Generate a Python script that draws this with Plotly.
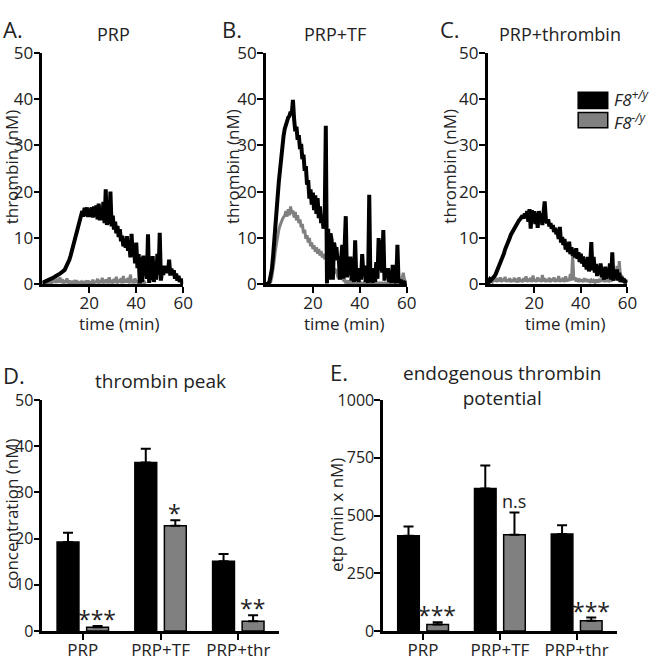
import plotly.graph_objects as go

W, H = 666, 669
FONT = "Open Sans"
GRAY = "#808080"

# ---------------- data ----------------
TIME = [i * 0.5 for i in range(121)]  # minutes 0 .. 60

A_WT = [0.3, 0.4, 0.5, 0.6, 0.7, 0.8, 1.0, 1.1, 1.3, 1.4,
        1.5, 1.7, 1.8, 2.0, 2.1, 2.3, 2.5, 2.6, 2.9, 3.1,
        3.6, 4.0, 4.6, 5.3, 6.1, 7.0, 8.0, 9.1, 10.1, 11.2,
        12.3, 13.2, 14.1, 15.0, 15.8, 14.6, 16.5, 14.8, 16.6, 14.5,
        16.3, 14.6, 16.6, 14.4, 16.8, 14.6, 17.0, 14.0, 17.4, 13.8,
        16.3, 13.8, 17.8, 13.2, 20.5, 12.8, 15.2, 13.0, 20.0, 12.5,
        14.8, 11.8, 13.5, 11.0, 12.6, 10.2, 11.9, 9.3, 10.5, 8.2,
        9.6, 7.9, 10.4, 7.2, 9.0, 5.8, 10.9, 6.0, 8.2, 4.5,
        9.0, 3.5, 6.5, 0.2, 5.8, 0.5, 6.2, 2.0, 4.0, 1.2,
        10.8, 0.3, 3.2, 1.0, 6.1, 0.5, 2.8, 1.0, 6.6, 2.1,
        11.1, 0.8, 3.0, 2.0, 4.0, 2.5, 3.6, 2.4, 5.3, 1.9,
        3.4, 2.0, 3.0, 1.2, 2.3, 0.8, 1.8, 0.5, 1.2, 0.3,
        0.5]
A_KO = [0.1, 0.1, 0.1, 0.2, 0.2, 0.3, 0.3, 0.5, 0.3, 0.8,
        0.4, 1.0, 0.3, 1.2, 0.4, 1.5, 0.3, 1.1, 0.2, 0.9,
        0.3, 1.3, 0.2, 0.8, 0.2, 0.7, 0.3, 0.6, 0.2, 0.9,
        0.1, 0.6, 0.2, 0.5, 0.1, 0.7, 0.2, 0.5, 0.1, 0.8,
        0.2, 0.6, 0.1, 1.0, 0.2, 0.7, 0.3, 1.2, 0.2, 0.9,
        0.3, 1.4, 0.2, 1.0, 0.3, 1.1, 0.2, 1.5, 0.3, 0.9,
        0.2, 1.2, 0.3, 1.6, 0.2, 1.0, 0.4, 1.3, 0.2, 1.8,
        0.3, 1.1, 0.4, 1.4, 0.2, 2.1, 0.3, 1.0, 0.2, 1.3,
        0.3, 0.8, 0.2, 0.9, 0.3, 0.7, 0.2, 0.5, 0.1, None,
        None, None, None, None, None, None, None, None, None, None,
        None, None, None, None, None, None, None, None, None, None,
        None, None, None, None, None, None, None, None, None, None,
        None]

B_WT = [0.0, 0.0, 0.2, 0.6, 1.6, 3.2, 5.8, 8.6, 12.0, 15.6,
        19.0, 22.2, 25.0, 27.8, 30.0, 32.0, 33.5, 34.5, 35.0, 36.0,
        36.3, 37.2, 36.7, 39.8, 35.6, 33.0, 34.0, 31.2, 32.2, 29.2,
        30.3, 27.0, 28.0, 24.5, 25.5, 21.5, 22.5, 18.5, 20.5, 17.2,
        19.8, 16.0, 19.2, 15.2, 18.6, 14.3, 16.8, 13.2, 15.0, 12.0,
        13.5, 34.2, 0.2, 12.0, 1.0, 11.0, 9.5, 1.0, 9.0, 7.5,
        8.0, 5.2, 6.0, 1.0, 5.0, 8.5, 1.2, 7.8, 14.7, 1.5,
        4.0, 2.0, 6.0, 0.8, 3.0, 0.5, 9.5, 0.8, 2.2, 0.5,
        3.5, 1.0, 6.5, 2.0, 4.0, 0.5, 2.5, 0.3, 19.3, 0.5,
        2.0, 0.3, 3.5, 0.5, 4.8, 1.2, 10.0, 3.0, 9.5, 2.5,
        11.7, 0.8, 3.0, 1.5, 3.5, 0.5, 1.5, 0.3, 4.2, 0.5,
        0.8, 0.3, 8.5, 0.3, 1.0, 0.3, 0.5, 0.2, 0.4, 0.2,
        0.3]
B_KO = [0.0, 0.0, 0.0, 0.2, 0.5, 1.5, 3.0, 5.0, 7.2, 9.0,
        10.6, 11.8, 12.7, 13.5, 14.0, 14.5, 14.8, 15.8, 14.6, 16.2,
        14.9, 16.8, 15.3, 15.9, 14.4, 15.6, 13.8, 14.9, 13.2, 14.0,
        12.3, 13.0, 11.0, 11.8, 9.8, 10.6, 9.0, 10.0, 8.2, 9.0,
        7.6, 8.4, 7.0, 8.0, 6.6, 7.6, 6.2, 7.2, 5.8, 6.6,
        5.4, 6.3, 4.4, 3.5, 3.0, 4.2, 4.0, 2.8, 2.3, 3.2,
        3.0, 1.8, 1.2, 2.0, 1.6, 1.0, 0.9, 1.2, 0.2, 0.8,
        0.3, 0.6, 0.2, 0.5, 0.1, 0.4, 0.1, 0.3, 0.1, 0.3,
        0.1, 0.3, 0.1, 0.3, 0.1, 0.3, 0.1, 0.3, 0.1, 0.3,
        0.1, 0.3, 0.1, 0.3, 0.1, 0.3, 0.1, 0.3, 0.1, 0.3,
        0.1, 0.3, 0.1, 0.3, 0.1, 0.3, 0.1, 0.3, 0.1, 0.3,
        0.1, 0.3, 0.1, 0.3, 0.1, 0.3, 1.5, 2.5, 1.0, 0.4,
        0.2]

C_WT = [0.8, 0.6, 1.1, 0.9, 1.2, 1.4, 1.8, 2.2, 2.8, 3.3,
        3.8, 4.5, 5.2, 5.9, 6.6, 7.5, 8.3, 8.8, 9.3, 10.0,
        10.7, 11.2, 11.7, 12.2, 12.7, 13.0, 13.4, 13.8, 14.1, 14.4,
        14.8, 14.2, 15.3, 14.5, 15.8, 13.5, 16.2, 12.0, 16.0, 14.0,
        15.8, 13.0, 15.4, 12.2, 15.8, 13.8, 15.3, 12.8, 16.0, 17.9,
        14.1, 13.2, 14.0, 12.5, 13.2, 12.0, 12.8, 11.3, 12.2, 10.8,
        11.4, 9.8, 12.4, 9.0, 10.2, 8.5, 9.8, 7.5, 8.6, 7.0,
        9.2, 6.5, 8.0, 6.2, 7.4, 5.8, 7.8, 5.5, 6.9, 4.8,
        6.6, 4.5, 6.0, 3.8, 5.2, 3.2, 5.9, 2.8, 4.2, 9.1,
        3.0, 5.9, 2.5, 4.4, 1.8, 4.0, 2.2, 4.5, 1.5, 3.0,
        1.0, 3.8, 1.2, 3.0, 1.5, 4.5, 1.0, 6.9, 0.8, 2.5,
        1.2, 3.2, 0.8, 2.5, 0.5, 1.6, 0.5, 1.2, 0.3, 0.8,
        0.4]
C_KO = [0.3, 0.5, 0.4, 0.7, 0.5, 1.2, 0.6, 1.4, 0.5, 1.3,
        0.6, 1.5, 0.5, 1.2, 0.7, 1.6, 0.5, 1.1, 0.6, 1.3,
        0.5, 1.0, 0.6, 1.4, 0.5, 1.2, 0.4, 1.5, 0.6, 1.0,
        0.5, 1.3, 0.6, 1.7, 0.5, 1.2, 0.6, 1.4, 0.5, 1.9,
        0.6, 1.1, 0.5, 1.5, 0.7, 1.2, 0.5, 2.0, 0.6, 1.3,
        0.5, 1.1, 0.6, 1.4, 0.5, 1.2, 0.7, 1.5, 0.5, 1.1,
        0.6, 1.8, 0.5, 1.2, 0.6, 1.4, 0.5, 1.7, 0.6, 1.2,
        0.7, 2.2, 0.8, 6.6, 0.9, 1.5, 0.6, 1.3, 0.5, 1.2,
        0.6, 1.0, 0.5, 1.3, 0.6, 1.1, 0.5, 1.0, 0.6, 0.9,
        0.4, 0.8, 0.5, 1.0, 0.4, 0.8, 0.5, 1.2, 0.6, 1.5,
        0.5, 1.0, 0.6, 1.3, 0.5, 1.0, 0.6, 1.2, 0.8, 2.5,
        1.0, 4.0, 1.2, 5.0, 1.5, 2.0, 0.8, 1.0, 0.5, 0.6,
        0.4]

TIME_TICKS = [20, 40, 60]
CONC_TICKS = [0, 10, 20, 30, 40, 50]
ETP_TICKS = [0, 250, 500, 750, 1000]

CATS = ["PRP", "PRP+TF", "PRP+thr"]
PEAK_WT = [19.3, 36.5, 15.1]
PEAK_WT_SEM = [2.0, 3.0, 1.6]
PEAK_KO = [0.8, 22.8, 2.1]
PEAK_KO_SEM = [0.3, 1.2, 1.3]
PEAK_SIG = ["***", "*", "**"]

ETP_WT = [413, 617, 420]
ETP_WT_SEM = [40, 100, 38]
ETP_KO = [28, 417, 44]
ETP_KO_SEM = [10, 96, 14]
ETP_SIG = ["***", "n.s", "***"]


def px(x):
    return x / W


def py(y):
    return 1 - y / H


fig = go.Figure()

# ---------------- time courses ----------------
panels = [("", A_KO, A_WT), ("2", B_KO, B_WT), ("3", C_KO, C_WT)]
for suf, ko, wt in panels:
    fig.add_trace(go.Scatter(x=TIME, y=ko, mode="lines", line=dict(color=GRAY, width=3),
                             xaxis="x" + suf, yaxis="y" + suf, showlegend=False, hoverinfo="skip"))
    fig.add_trace(go.Scatter(x=TIME, y=wt, mode="lines", line=dict(color="black", width=4),
                             xaxis="x" + suf, yaxis="y" + suf, showlegend=False, hoverinfo="skip"))

# ---------------- bar charts ----------------
for suf, wt, wts, ko, kos in [("4", PEAK_WT, PEAK_WT_SEM, PEAK_KO, PEAK_KO_SEM),
                              ("5", ETP_WT, ETP_WT_SEM, ETP_KO, ETP_KO_SEM)]:
    fig.add_trace(go.Bar(x=CATS, y=wt, marker=dict(color="black", line=dict(color="black", width=1.5)),
                         error_y=dict(type="data", array=wts, arrayminus=[0] * 3, symmetric=False,
                                      color="black", thickness=2, width=5),
                         xaxis="x" + suf, yaxis="y" + suf, showlegend=False, hoverinfo="skip"))
    fig.add_trace(go.Bar(x=CATS, y=ko, marker=dict(color=GRAY, line=dict(color="black", width=1.5)),
                         error_y=dict(type="data", array=kos, arrayminus=[0] * 3, symmetric=False,
                                      color="black", thickness=2, width=5),
                         xaxis="x" + suf, yaxis="y" + suf, showlegend=False, hoverinfo="skip"))

axis_common = dict(showline=True, linecolor="black", linewidth=2.5, ticks="outside", ticklen=6,
                   tickwidth=2, tickcolor="black", showgrid=False, zeroline=False,
                   tickfont=dict(family=FONT, size=17, color="#222"), fixedrange=True)
xstand = dict(ticklabelstandoff=-4)
ystand = dict(ticklabelstandoff=-3)
small_tf = dict(tickfont=dict(family=FONT, size=16, color="#222"))

ts_y = [py(282), py(42)]
layout = dict(
    width=W, height=H, margin=dict(l=0, r=0, t=0, b=0),
    paper_bgcolor="white", plot_bgcolor="white",
    font=dict(family=FONT, color="#222"),
    barmode="group", bargap=0.24, bargroupgap=0.26,
    showlegend=False,
)
for suf, x0, x1 in [("", 43, 186), ("2", 270, 413), ("3", 495, 637)]:
    layout["xaxis" + suf] = dict(axis_common, **xstand, domain=[px(x0), px(x1)], range=[0, 60],
                                 tickvals=TIME_TICKS, anchor="y" + suf)
    layout["yaxis" + suf] = dict(axis_common, **ystand, domain=ts_y, range=[0, 50],
                                 tickvals=CONC_TICKS, anchor="x" + suf)

bar_y = [py(641), py(402)]
layout["xaxis4"] = dict(axis_common, **xstand, domain=[px(43), px(283)], range=[-0.52, 2.52],
                        type="category", anchor="y4")
layout["yaxis4"] = dict(axis_common, **ystand, domain=bar_y, range=[0, 50], tickvals=CONC_TICKS,
                        anchor="x4")
layout["yaxis4"].update(small_tf)
layout["xaxis5"] = dict(axis_common, **xstand, domain=[px(389), px(626)], range=[-0.52, 2.52],
                        type="category", anchor="y5")
layout["yaxis5"] = dict(axis_common, **ystand, domain=bar_y, range=[0, 1000], tickvals=ETP_TICKS,
                        anchor="x5")
layout["yaxis5"].update(small_tf)

fig.update_layout(**layout)

ann = []


def text(x, y, s, size, angle=0, color="#222"):
    ann.append(dict(x=px(x), y=py(y), xref="paper", yref="paper", text=s, showarrow=False,
                    textangle=angle, font=dict(family=FONT, size=size, color=color),
                    xanchor="center", yanchor="middle"))


# panel letters
text(13, 18, "A.", 22)
text(236, 18, "B.", 22)
text(457, 18, "C.", 22)
text(14, 376, "D.", 22)
text(344, 373, "E.", 22)
# panel titles
text(115, 23, "PRP", 18)
text(340, 23, "PRP+TF", 18)
text(569, 23, "PRP+thrombin", 18)
text(163, 382, "thrombin peak", 19)
text(510, 387, "endogenous thrombin<br>potential", 19)
# axis titles
for xc in (121, 350, 574):
    text(xc, 323, "time (min)", 17)
for xc in (12, 236, 456):
    text(xc, 160, "thrombin (nM)", 17, angle=-90)
text(11, 519, "concentration (nM)", 17, angle=-90)
text(341, 521, "etp (min x nM)", 17, angle=-90)

# legend (panel C)
fig.add_shape(type="rect", xref="paper", yref="paper", x0=px(587), x1=px(617), y0=py(100), y1=py(83),
              fillcolor="black", line=dict(color="black", width=1.5))
fig.add_shape(type="rect", xref="paper", yref="paper", x0=px(587), x1=px(617), y0=py(120), y1=py(104),
              fillcolor=GRAY, line=dict(color="black", width=1.5))
ann.append(dict(x=px(621), y=py(90), xref="paper", yref="paper", xanchor="left", yanchor="middle",
                text="<i>F8<sup>+/y</sup></i>", showarrow=False, font=dict(family=FONT, size=17, color="#222")))
ann.append(dict(x=px(621), y=py(113), xref="paper", yref="paper", xanchor="left", yanchor="middle",
                text="<i>F8<sup>-/y</sup></i>", showarrow=False, font=dict(family=FONT, size=17, color="#222")))

# significance marks
for suf, ko, kos, sig in [("4", PEAK_KO, PEAK_KO_SEM, PEAK_SIG), ("5", ETP_KO, ETP_KO_SEM, ETP_SIG)]:
    for c, v, e, s in zip(CATS, ko, kos, sig):
        ann.append(dict(x=c, y=v + e, xref="x" + suf, yref="y" + suf, text=s, showarrow=False,
                        xanchor="center", yanchor="bottom", xshift=14,
                        yshift=(-11 if "*" in s else -2),
                        font=dict(family=FONT, size=(23 if "*" in s else 18), color="#222")))

fig.update_layout(annotations=ann)
fig.write_html("out.html", config={"displayModeBar": False},
               post_script="document.body.style.margin='0px';")
